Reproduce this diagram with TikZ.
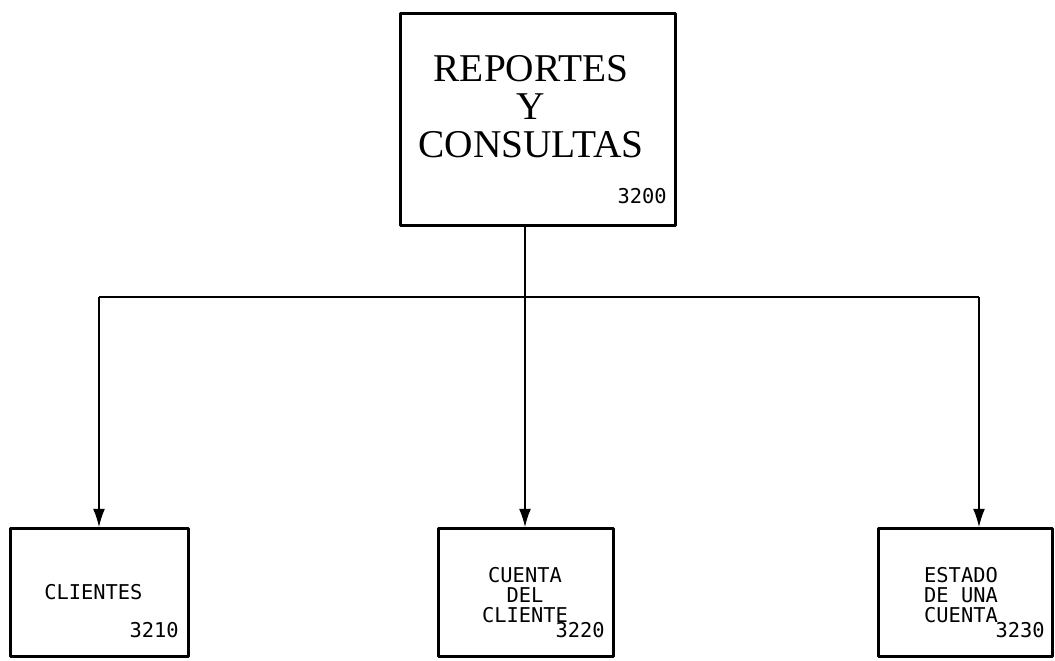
\documentclass[tikz,border=0pt]{standalone}
\usepackage{fontspec}
\setmainfont{Liberation Serif}
\newfontfamily\monof{DejaVu Sans Mono}
\usetikzlibrary{arrows.meta}
\tikzset{bx/.style={draw, rectangle, line width=2pt, inner sep=0pt}}
\tikzset{lg/.style={font=\fontsize{28}{27}\selectfont, inner sep=0pt, align=center}}
\tikzset{sm/.style={font=\monof\fontsize{14.5}{14.2}\selectfont, inner sep=0pt, align=center}}
\tikzset{nm/.style={font=\monof\fontsize{14.5}{14.2}\selectfont, inner sep=0pt}}
\tikzset{ln/.style={line width=1pt}}

\begin{document}
\begin{tikzpicture}[x=0.025cm, y=-0.025cm, line join=round, >={Latex[length=13pt,width=8.5pt]}]
  \useasboundingbox (0,0) rectangle (1055,661);

  \node[bx, minimum width=6.88cm, minimum height=5.3cm] (RC) at (538,119.5) {};
  \node[lg, anchor=north] (RCt) at (531,55) {REPORTES\\Y\\CONSULTAS};
  \node[nm, anchor=base east] (RCn) at (667,204) {3200};

  \node[bx, minimum width=4.45cm, minimum height=3.2cm] (CL) at (99.5,592.5) {};
  \node[nm, anchor=base west] (CLt) at (44,600) {CLIENTES};
  \node[nm, anchor=base east] (CLn) at (179,638) {3210};

  \node[bx, minimum width=4.375cm, minimum height=3.2cm] (CC) at (526,592.5) {};
  \node[sm, anchor=north] (CCt) at (525,567) {CUENTA\\DEL\\CLIENTE};
  \node[nm, anchor=base east] (CCn) at (605,638) {3220};

  \node[bx, minimum width=4.35cm, minimum height=3.2cm] (EC) at (965.5,592.5) {};
  \node[sm, anchor=north] (ECt) at (961,567) {ESTADO\\DE UNA\\CUENTA};
  \node[nm, anchor=base east] (ECn) at (1045,638) {3230};

  \coordinate (k1) at (99,297);
  \coordinate (k2) at (525,297);
  \coordinate (k3) at (979,297);
  \draw[ln] (RC.south -| k2) -- (k2);
  \draw[ln] (k1) -- (k3);
  \draw[ln, ->] (k1) -- (k1 |- CL.north);
  \draw[ln, ->] (k2) -- (k2 |- CC.north);
  \draw[ln, ->] (k3) -- (k3 |- EC.north);
\end{tikzpicture}
\end{document}
